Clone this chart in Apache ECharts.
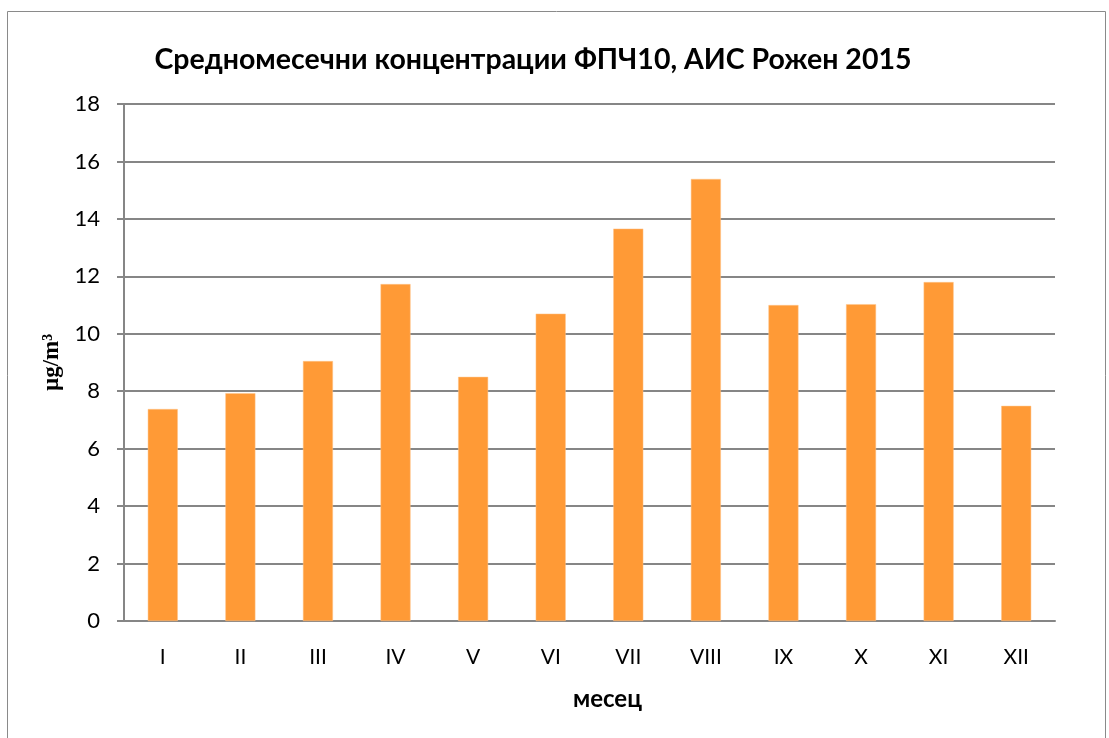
<!DOCTYPE html>
<html>
<head>
<meta charset="utf-8">
<script src="https://cdn.jsdelivr.net/npm/echarts@6/dist/echarts.min.js"></script>
<style>
  html, body { margin: 0; padding: 0; background: #fff; }
  #chart { width: 1109px; height: 738px; }
</style>
</head>
<body>
<div id="chart"></div>
<script>
  // месеци
  const months = ['I', 'II', 'III', 'IV', 'V', 'VI', 'VII', 'VIII', 'IX', 'X', 'XI', 'XII'];
  // средномесечни концентрации ФПЧ10, µg/m3
  const pm10 = [7.38, 7.93, 9.05, 11.73, 8.50, 10.70, 13.66, 15.39, 11.00, 11.03, 11.80, 7.49];
  const yMin = 0, yMax = 18, yStep = 2;

  const chart = echarts.init(document.getElementById('chart'));
  chart.setOption({
    animation: false,
    graphic: [{
      type: 'rect',
      shape: { x: 7.5, y: 11.5, width: 1098, height: 760 },
      style: { fill: 'none', stroke: '#8a8a8a', lineWidth: 1 },
      silent: true
    }],
    title: {
      text: 'Средномесечни концентрации ФПЧ10, АИС Рожен 2015',
      left: 528, top: 40, textAlign: 'center',
      textStyle: { fontFamily: 'Lato', fontWeight: 'bold', fontSize: 28.5, color: '#000' }
    },
    grid: { left: 124, right: 54, top: 104, bottom: 117 },
    xAxis: {
      type: 'category',
      data: months,
      name: 'месец',
      nameLocation: 'middle',
      nameGap: 66,
      nameTextStyle: { fontFamily: 'Lato', fontWeight: 'bold', fontSize: 24, color: '#000', padding: [0, 0, 0, 36] },
      axisLine: { lineStyle: { color: '#868686', width: 2 } },
      axisTick: { show: false },
      axisLabel: { fontFamily: 'Lato', fontSize: 21, color: '#000', margin: 26 }
    },
    yAxis: {
      type: 'value',
      min: yMin, max: yMax, interval: yStep,
      name: 'µg/m³',
      nameLocation: 'middle',
      nameGap: 58,
      nameTextStyle: { fontFamily: 'Liberation Serif', fontWeight: 'bold', fontSize: 23, color: '#000' },
      axisLine: { show: true, lineStyle: { color: '#868686', width: 2 } },
      axisTick: { show: true, length: 7, lineStyle: { color: '#868686', width: 2 } },
      axisLabel: { fontFamily: 'Lato', fontSize: 22, color: '#000', margin: 24 },
      splitLine: { lineStyle: { color: '#868686', width: 2 } }
    },
    series: [{
      type: 'bar',
      data: pm10,
      barWidth: 30,
      itemStyle: { color: '#FF9A36', borderColor: '#FFC48A', borderWidth: 0.5 }
    }]
  });
</script>
</body>
</html>
